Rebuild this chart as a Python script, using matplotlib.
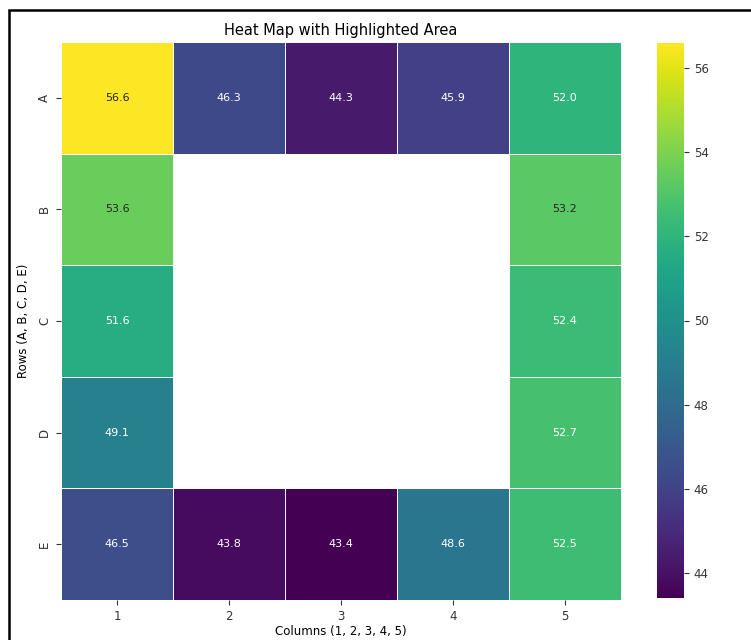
import numpy as np
import matplotlib
matplotlib.use("Agg")
import matplotlib.pyplot as plt
import seaborn as sns
from matplotlib.patches import Rectangle

# Grid values; the interior block is left empty (NaN) so only the border is drawn
row_labels = ["A", "B", "C", "D", "E"]
col_labels = ["1", "2", "3", "4", "5"]
row_a = [56.6, 46.3, 44.3, 45.9, 52.0]
row_b = [53.6, np.nan, np.nan, np.nan, 53.2]
row_c = [51.6, np.nan, np.nan, np.nan, 52.4]
row_d = [49.1, np.nan, np.nan, np.nan, 52.7]
row_e = [46.5, 43.8, 43.4, 48.6, 52.5]

data = np.array([row_a, row_b, row_c, row_d, row_e])
mask = np.isnan(data)

fig = plt.figure(figsize=(7.51, 6.40), dpi=100)
ax = fig.add_axes([61 / 751, 40 / 640, 560 / 751, 558 / 640])
cax = fig.add_axes([657 / 751, 42 / 640, 27 / 751, 555 / 640])

sns.heatmap(
    data, mask=mask, cmap="viridis", annot=True, fmt=".1f",
    annot_kws={"fontsize": 8}, linewidths=0.6, linecolor="white",
    vmin=np.nanmin(data), vmax=np.nanmax(data),
    xticklabels=col_labels, yticklabels=row_labels,
    ax=ax, cbar_ax=cax,
)

ax.set_title("Heat Map with Highlighted Area", fontsize=10.5, pad=5)
ax.set_xlabel("Columns (1, 2, 3, 4, 5)", fontsize=8.5, labelpad=2)
ax.set_ylabel("Rows (A, B, C, D, E)", fontsize=8.5, labelpad=6)
ax.tick_params(axis="both", labelsize=8.5, colors="#333333")
plt.setp(ax.get_yticklabels(), rotation=90, va="center")
plt.setp(ax.get_xticklabels(), rotation=0)

cax.tick_params(labelsize=8.5, colors="#333333")
cax.set_yticks([44, 46, 48, 50, 52, 54, 56])

# Dark frame running along the top and left of the figure
fig.patches.append(Rectangle((9 / 751, -0.1), 1.2, 1.1 - 10 / 640,
                             transform=fig.transFigure, fill=False,
                             edgecolor="black", linewidth=1.8))

fig.savefig("out.png", dpi=100)
